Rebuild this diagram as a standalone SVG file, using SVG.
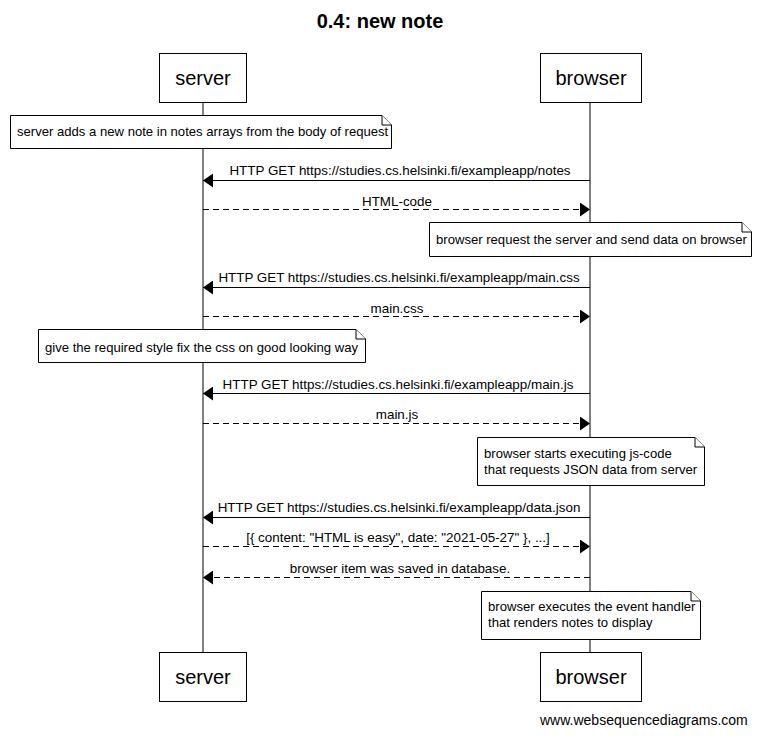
<svg xmlns="http://www.w3.org/2000/svg" width="760" height="736" viewBox="0 0 760 736">
<defs>
<style>
text{font-family:"Liberation Sans",Arial,sans-serif;fill:#000}
.title{font-size:20px;font-weight:bold;text-anchor:middle}
.actor{fill:#fff;stroke:#000;stroke-width:1}
.atext{font-size:20px;text-anchor:middle}
.life{stroke:#000;stroke-width:1}
.note{fill:#fff;stroke:#000;stroke-width:1}
.fold{fill:#fff;stroke:#000;stroke-width:1}
.ntext{font-size:13.1px}
.mtext{font-size:13.4px;text-anchor:middle}
.msg{stroke:#000;stroke-width:1;fill:none}
.dash{stroke-dasharray:6,4}
.foot{font-size:14px}
</style>
<marker id="ah" markerWidth="10" markerHeight="14" refX="10" refY="7" orient="auto" markerUnits="userSpaceOnUse">
<path d="M0,0 L10,7 L0,14 Z" fill="#000"/>
</marker>
</defs>
<rect width="760" height="736" fill="#fff"/>
<text class="title" x="380" y="28">0.4: new note</text>

<g id="lifelines">
<line class="life" x1="203" y1="102" x2="203" y2="652"/>
<line class="life" x1="590" y1="102" x2="590" y2="652"/>
</g>

<g id="server-top"><rect class="actor" x="159.5" y="53.5" width="87" height="49"/><text class="atext" x="203" y="85">server</text></g>
<g id="browser-top"><rect class="actor" x="540.5" y="53.5" width="101" height="49"/><text class="atext" x="591" y="85">browser</text></g>
<g id="server-bottom"><rect class="actor" x="159.5" y="652.5" width="87" height="49"/><text class="atext" x="203" y="684">server</text></g>
<g id="browser-bottom"><rect class="actor" x="540.5" y="652.5" width="101" height="49"/><text class="atext" x="591" y="684">browser</text></g>

<g id="note1"><path class="note" d="M10.5,115.5 H382 L391.5,125 V148.5 H10.5 Z"/><path class="fold" d="M382,115.5 V125 H391.5"/><text class="ntext" x="17" y="136">server adds a new note in notes arrays from the body of request</text></g>
<g id="note2"><path class="note" d="M429.5,222.5 H742 L751.5,232 V256.5 H429.5 Z"/><path class="fold" d="M742,222.5 V232 H751.5"/><text class="ntext" x="436" y="244">browser request the server and send data on browser</text></g>
<g id="note3"><path class="note" d="M38.5,329.5 H356 L365.5,339 V362.5 H38.5 Z"/><path class="fold" d="M356,329.5 V339 H365.5"/><text class="ntext" x="45" y="352">give the required style fix the css on good looking way</text></g>
<g id="note4"><path class="note" d="M477.5,437.5 H695 L704.5,447 V485.5 H477.5 Z"/><path class="fold" d="M695,437.5 V447 H704.5"/><text class="ntext" x="484" y="458">browser starts executing js-code</text><text class="ntext" x="484" y="474">that requests JSON data from server</text></g>
<g id="note5"><path class="note" d="M481.5,591.5 H691 L700.5,601 V639.5 H481.5 Z"/><path class="fold" d="M691,591.5 V601 H700.5"/><text class="ntext" x="488" y="611">browser executes the event handler</text><text class="ntext" x="488" y="627">that renders notes to display</text></g>

<g id="connectors">
<line class="msg" x1="590" y1="180.5" x2="203" y2="180.5" marker-end="url(#ah)"/>
<text class="mtext" x="400" y="175">HTTP GET https://studies.cs.helsinki.fi/exampleapp/notes</text>
<line class="msg dash" x1="203" y1="209.5" x2="590" y2="209.5" marker-end="url(#ah)"/>
<text class="mtext" x="397" y="206">HTML-code</text>
<line class="msg" x1="590" y1="287.5" x2="203" y2="287.5" marker-end="url(#ah)"/>
<text class="mtext" x="399" y="282">HTTP GET https://studies.cs.helsinki.fi/exampleapp/main.css</text>
<line class="msg dash" x1="203" y1="316.5" x2="590" y2="316.5" marker-end="url(#ah)"/>
<text class="mtext" x="397" y="313">main.css</text>
<line class="msg" x1="590" y1="393.5" x2="203" y2="393.5" marker-end="url(#ah)"/>
<text class="mtext" x="398" y="389">HTTP GET https://studies.cs.helsinki.fi/exampleapp/main.js</text>
<line class="msg dash" x1="203" y1="423.5" x2="590" y2="423.5" marker-end="url(#ah)"/>
<text class="mtext" x="397" y="419">main.js</text>
<line class="msg" x1="590" y1="517.5" x2="203" y2="517.5" marker-end="url(#ah)"/>
<text class="mtext" x="399" y="512">HTTP GET https://studies.cs.helsinki.fi/exampleapp/data.json</text>
<line class="msg dash" x1="203" y1="546.5" x2="590" y2="546.5" marker-end="url(#ah)"/>
<text class="mtext" x="398" y="542">[{ content: "HTML is easy", date: "2021-05-27" }, ...]</text>
<line class="msg dash" x1="590" y1="577.5" x2="203" y2="577.5" marker-end="url(#ah)"/>
<text class="mtext" x="400" y="573">browser item was saved in database.</text>
</g>

<text class="foot" x="540" y="725">www.websequencediagrams.com</text>
</svg>
